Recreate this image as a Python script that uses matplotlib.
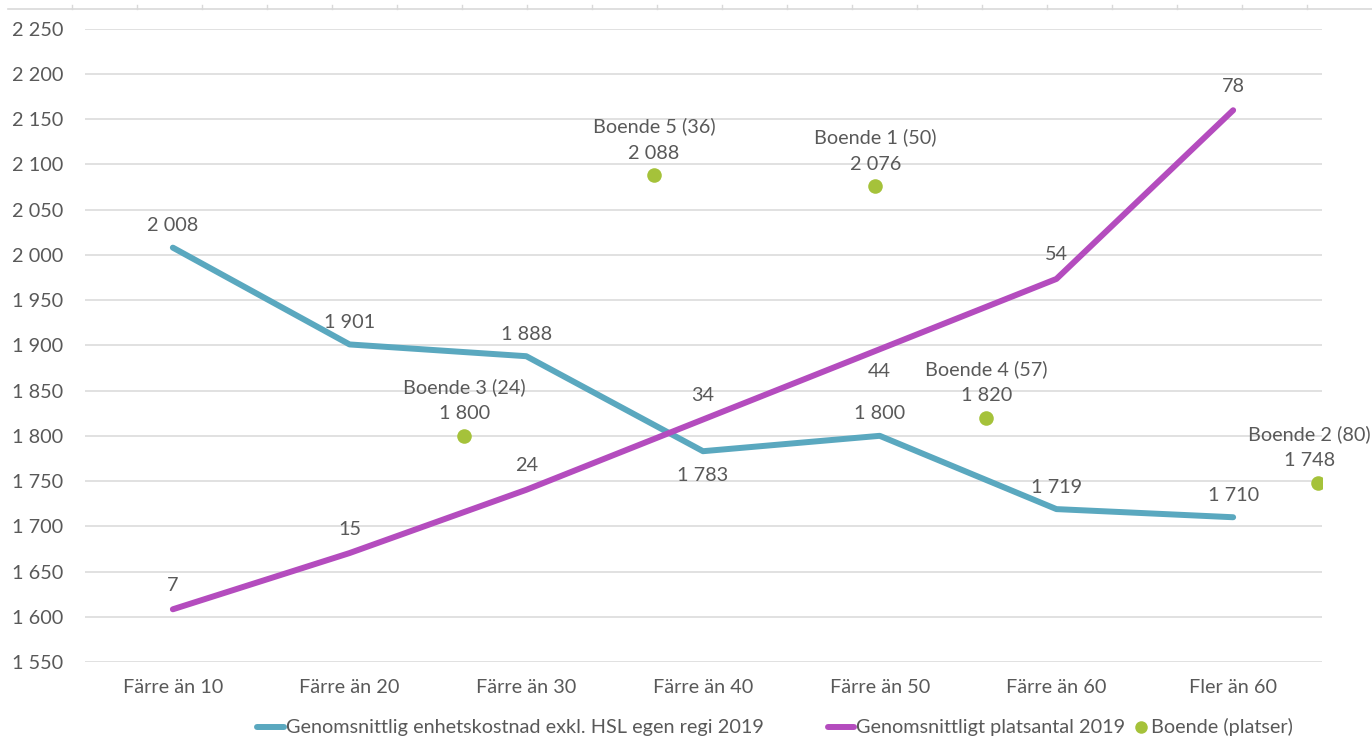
import matplotlib
matplotlib.use("Agg")
import matplotlib.pyplot as plt
from matplotlib.lines import Line2D
from matplotlib.ticker import FuncFormatter, MultipleLocator

plt.rcParams['font.family'] = ['Lato', 'DejaVu Sans']

categories = ["Färre än 10", "Färre än 20", "Färre än 30", "Färre än 40",
              "Färre än 50", "Färre än 60", "Fler än 60"]
cost = [2008, 1901, 1888, 1783, 1800, 1719, 1710]
places = [7, 15, 24, 34, 44, 54, 78]
boende_names = ["Boende 3", "Boende 5", "Boende 1", "Boende 4", "Boende 2"]
boende_platser = [24, 36, 50, 57, 80]
boende_x = [24, 36, 50, 57, 78]
boende_cost = [1800, 2088, 2076, 1820, 1748]

cost_label_below = [False, False, False, True, False, False, False]
places_label_below = [False, False, False, False, True, False, False]
boende_label_shift = [0, 0, 0, 0, -9]   # label nudge (px) to keep text inside the image

BLUE = "#5AA8BF"
PURPLE = "#B44CBE"
GREEN = "#A5C23A"
TXT = "#595959"
GRID = "#D9D9D9"
FS = 14.3

W, H = 1372, 737
fig = plt.figure(figsize=(W / 100, H / 100), dpi=100)
L, R, T, B = 84.5, 1321.5, 28.7, 662
ax = fig.add_axes([L / W, 1 - B / H, (R - L) / W, (B - T) / H])

def fmt(v, _=None):
    return f"{int(round(v)):,}".replace(",", " ")

x = list(range(len(categories)))
ax.set_xlim(-0.5, len(categories) - 0.5)
ax.set_ylim(1550, 2250)
ax.yaxis.set_major_locator(MultipleLocator(50))
ax.yaxis.set_major_formatter(FuncFormatter(fmt))
ax.grid(axis='y', color=GRID, lw=1.1)
ax.set_axisbelow(True)
for s in ax.spines.values():
    s.set_visible(False)
ax.set_xticks(x)
ax.set_xticklabels(categories)
ax.tick_params(axis='both', length=0, colors=TXT, labelsize=FS)
ax.tick_params(axis='y', pad=15.5)
ax.tick_params(axis='x', pad=12)

ax.plot(x, cost, color=BLUE, lw=4.3, solid_capstyle='round', solid_joinstyle='round', zorder=3)
for xi, v, below in zip(x, cost, cost_label_below):
    ax.annotate(fmt(v), (xi, v), xytext=(0, -24 if below else 22), textcoords='offset pixels',
                ha='center', va='center', fontsize=FS, color=TXT, zorder=5)

ax2 = ax.twinx()
ax2.set_ylim(-0.5, 89.6)
ax2.axis('off')
ax2.plot(x, places, color=PURPLE, lw=4.3, solid_capstyle='round', solid_joinstyle='round', zorder=3)
for xi, v, below in zip(x, places, places_label_below):
    ax2.annotate(str(v), (xi, v), xytext=(0, -22 if below else 24), textcoords='offset pixels',
                 ha='center', va='center', fontsize=FS, color=TXT)

ax3 = ax.twiny()
ax3.set_xlim(0, 78.2)
ax3.set_ylim(1550, 2250)
ax3.axis('off')
ax3.scatter(boende_x, boende_cost, s=110, color=GREEN, zorder=4, linewidths=0)
for bx, bc, name, p, dx in zip(boende_x, boende_cost, boende_names, boende_platser, boende_label_shift):
    ax3.annotate(fmt(bc), (bx, bc), xytext=(dx, 22), textcoords='offset pixels',
                 ha='center', va='center', fontsize=FS, color=TXT)
    ax3.annotate(f"{name} ({p})", (bx, bc), xytext=(dx, 49), textcoords='offset pixels',
                 ha='center', va='center', fontsize=FS, color=TXT)

# decorative top secondary axis line with ticks
def fx(px):
    return px / W
def fy(py):
    return 1 - py / H
fig.add_artist(Line2D([fx(8), fx(1372)], [fy(9), fy(9)], color=GRID, lw=1.2))
for k in range(20):
    tx = 72 + 65 * k
    fig.add_artist(Line2D([fx(tx), fx(tx)], [fy(9), fy(5)], color=GRID, lw=1.0))

# legend
ly = fy(727)
fig.add_artist(Line2D([fx(257), fx(284)], [ly, ly], color=BLUE, lw=4.3, solid_capstyle='round'))
fig.text(fx(286), ly, "Genomsnittlig enhetskostnad exkl. HSL egen regi 2019",
         ha='left', va='center', fontsize=FS, color=TXT)
fig.add_artist(Line2D([fx(828), fx(854)], [ly, ly], color=PURPLE, lw=4.3, solid_capstyle='round'))
fig.text(fx(856), ly, "Genomsnittligt platsantal 2019",
         ha='left', va='center', fontsize=FS, color=TXT)
fig.add_artist(Line2D([fx(1141)], [ly], color=GREEN, marker='o', markersize=9, lw=0, markeredgewidth=0))
fig.text(fx(1151), ly, "Boende (platser)", ha='left', va='center', fontsize=FS, color=TXT)

fig.savefig("out.png", dpi=100)
